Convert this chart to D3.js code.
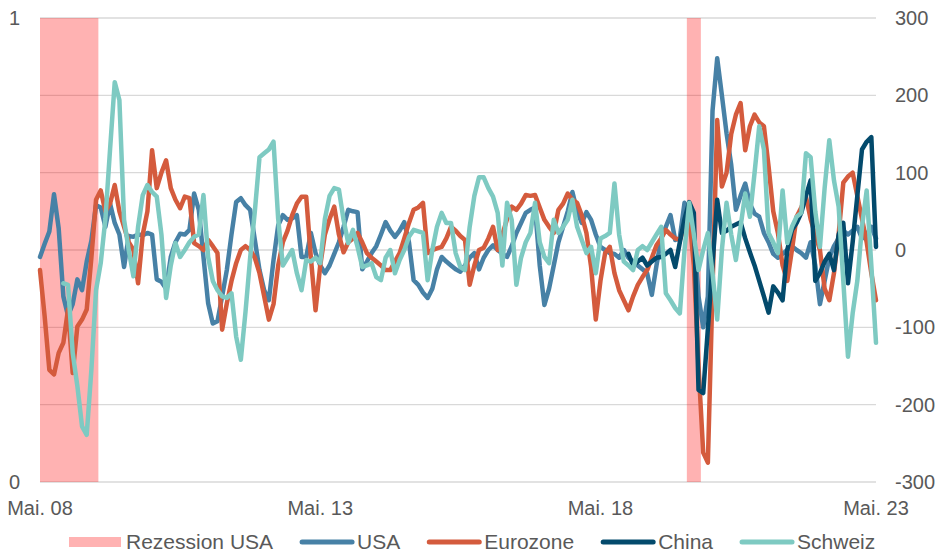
<!DOCTYPE html>
<html>
<head>
<meta charset="utf-8">
<script src="https://cdn.jsdelivr.net/npm/d3@7"></script>
<style>
  body { margin: 0; background: #fff; }
  svg text { font-family: "Liberation Sans", Arial, sans-serif; fill: #595959; }
</style>
</head>
<body>
<svg id="chart" width="939" height="553"></svg>
<script>
// monthly points, May 08 .. Apr 23
const monthCount = 180;
const xTickIndex  = [0, 60, 120, 179];
const xTickLabels = ["Mai. 08", "Mai. 13", "Mai. 18", "Mai. 23"];
const rightTicks  = [-300, -200, -100, 0, 100, 200, 300];
const leftTicks   = [0, 1];

// US recession months (first, last month index)
const recessionUSA = [[0, 12], [139, 141]];

const usa = [
  -9, 8, 24, 72, 28, -60, -85, -70, -38, -52,
  -15, 12, 58, 55, 30, 60, 35, 20, -22, 18,
  17, 20, 19, 22, 20, -38, -41, -50, -9, 10,
  21, 20, 26, 73, 52, -9, -69, -95, -92, -60,
  -26, 20, 62, 67, 58, 52, 13, -26, -52, -65,
  -13, 32, 45, 39, 41, 45, -9, -9, 22, -4,
  -20, -30, -20, -5, 10, 30, 52, 50, 49, -25,
  -15, -4, 5, 20, 36, 25, 17, 25, 36, 10,
  -39, -45, -55, -62, -50, -25, -9, -15, -20, -25,
  -28, -20, -10, -4, -25, -10, 0, 6, 0, -5,
  -9, 5, 22, 35, 48, 52, 55, -20, -71, -50,
  -20, 10, 30, 50, 75, 50, 35, 49, 39, 20,
  4, 0, -4, -5, -10, 0, -10, -15, -20, -25,
  -30, -58, -20, 15, 30, 45, 13, 16, 61, 48,
  20, -60, -100, -60, 180, 248, 200, 151, 110, 52,
  70, 86, 60, 47, 43, 22, 10, -5, -10, -5,
  0, 5, 0, -4, -10, 10, -20, -70, -40, -10,
  5, 15, 25, 20, 25, 30, 15, 20, 30, 15
];

const eurozone = [
  -26, -86, -155, -161, -133, -120, -77, -159, -99, -90,
  -77, -10, 65, 77, 50, 60, 84, 50, 30, 10,
  0, -43, 20, 50, 129, 80, 100, 116, 80, 65,
  54, 69, 67, 9, 5, 0, 13, 5, -4, -103,
  -69, -40, -17, 0, 5, 0, -10, -30, -60, -90,
  -70, -20, 10, 25, 45, 60, 69, 69, -10, -78,
  -20, 20, 40, 56, 20, -3, 10, 15, 22, 10,
  -4, -10, -15, -20, -26, -26, -15, -4, 15, 35,
  52, 55, 61, -4, 0, 2, 4, 15, 30, 25,
  18, 13, -45, -20, 0, 3, 15, 30, 0, 20,
  40, 56, 52, 60, 71, 70, 71, 55, 39, 30,
  22, 52, 60, 73, 65, 61, 45, 22, -22, -90,
  -40, -4, 4, -30, -52, -65, -78, -60, -45, -35,
  -26, -10, 6, 15, 26, 20, 15, 13, 30, 45,
  -20, -150, -262, -275, -50, 168, 82, 100, 150, 175,
  190, 129, 160, 175, 165, 160, 108, 50, 22, -20,
  -40, 0, 43, 55, 69, 40, 20, 0, -50, -65,
  -30, 20, 87, 95, 100, 70, 40, 10, -30, -65
];

const china = [
  null, null, null, null, null, null, null, null, null, null,
  null, null, null, null, null, null, null, null, null, null,
  null, null, null, null, null, null, null, null, null, null,
  null, null, null, null, null, null, null, null, null, null,
  null, null, null, null, null, null, null, null, null, null,
  null, null, null, null, null, null, null, null, null, null,
  null, null, null, null, null, null, null, null, null, null,
  null, null, null, null, null, null, null, null, null, null,
  null, null, null, null, null, null, null, null, null, null,
  null, null, null, null, null, null, null, null, null, null,
  null, null, null, null, null, null, null, null, null, null,
  null, null, null, null, null, null, null, null, null, null,
  null, null, null, null, null, null, -5, -20, -15, -10,
  -20, -15, -10, -9, -5, 0, -22, 10, 40, 62,
  48, -181, -185, -102, -18, 65, 22, 25, 30, 33,
  36, 15, -3, -20, -40, -60, -81, -47, -55, -65,
  0, 26, 35, 48, 70, 90, -40, -30, -15, -5,
  -26, 20, 35, -43, 10, 70, 130, 140, 146, 4
];

const schweiz = [
  null, null, null, null, null, -43, -45, -133, -176, -228,
  -239, -155, -52, -17, 40, 130, 217, 194, 39, 0,
  -34, 30, 71, 84, 75, 69, 20, -62, -20, 9,
  -9, 0, 10, 17, 20, 71, -9, -40, -52, -60,
  -62, -56, -112, -142, -80, -10, 50, 120, 125, 130,
  140, 40, -20, -10, 0, -30, -52, -13, -15, -10,
  -17, 40, 70, 80, 78, 39, 9, 26, 4, -22,
  -20, -17, -35, -39, -10, 0, -30, -13, 0, 17,
  26, 24, 22, -39, 0, 30, 48, 35, 35, -4,
  -22, -26, 30, 70, 94, 94, 80, 69, 48, -20,
  61, 39, -45, -10, 10, 22, 61, 10, -9, -17,
  39, 22, 30, 39, 65, 30, 13, -4, 4, -30,
  15, 18, 22, 86, 20, -15, -20, -26, 0, 5,
  0, 10, 20, 30, -56, -65, -75, -82, 0, 61,
  20, -26, 0, 22, -30, -90, 0, 61, 20, -13,
  30, 73, 43, 100, 160, 130, 22, 10, -4, 77,
  9, 30, 43, 48, 125, 120, 50, 4, 80, 142,
  90, 56, -40, -138, -82, -40, 30, 77, -20, -120
];

const seriesNames  = ["USA", "Eurozone", "China", "Schweiz"];
const seriesValues = [usa, eurozone, china, schweiz];
const seriesColors = ["#4781a6", "#d45b3d", "#034a6c", "#7ecac2"];

(function(){
  const svg = d3.select("#chart");
  const m = { top: 18, right: 63, bottom: 71, left: 40 };
  const W = 939, H = 553;

  const x  = d3.scaleLinear().domain([0, monthCount - 1]).range([m.left, W - m.right]);
  const yR = d3.scaleLinear().domain([-300, 300]).range([H - m.bottom, m.top]);
  const yL = d3.scaleLinear().domain([0, 1]).range([H - m.bottom, m.top]);

  // gridlines
  svg.append("g").selectAll("line").data(rightTicks).enter().append("line")
    .attr("x1", m.left).attr("x2", W - m.right)
    .attr("y1", d => yR(d)).attr("y2", d => yR(d))
    .attr("stroke", "#d9d9d9").attr("stroke-width", 1.3);

  // recession shading, one month wide bands
  svg.append("g").selectAll("rect").data(recessionUSA).enter().append("rect")
    .attr("x", d => Math.max(m.left, x(d[0] - 0.5)))
    .attr("width", d => x(d[1] + 0.5) - Math.max(m.left, x(d[0] - 0.5)))
    .attr("y", yL(1)).attr("height", yL(0) - yL(1))
    .attr("fill", "#ff0000").attr("fill-opacity", 0.3);

  // series lines
  const line = d3.line()
    .defined(d => d != null)
    .x((d, i) => x(i))
    .y(d => yR(d));

  svg.append("g").selectAll("path").data(seriesValues).enter().append("path")
    .attr("d", line)
    .attr("fill", "none")
    .attr("stroke", (d, i) => seriesColors[i])
    .attr("stroke-width", 4.5)
    .attr("stroke-linejoin", "round")
    .attr("stroke-linecap", "round");

  // axes labels
  svg.append("g").selectAll("text").data(leftTicks).enter().append("text")
    .attr("x", 20).attr("y", d => yL(d)).attr("dy", "0.35em")
    .attr("text-anchor", "end").attr("font-size", 20)
    .text(d => d);

  svg.append("g").selectAll("text").data(rightTicks).enter().append("text")
    .attr("x", W - m.right + 19).attr("y", d => yR(d)).attr("dy", "0.35em")
    .attr("font-size", 20)
    .text(d => d);

  svg.append("g").selectAll("text").data(xTickIndex).enter().append("text")
    .attr("x", d => x(d)).attr("y", 515)
    .attr("text-anchor", "middle").attr("font-size", 20)
    .text((d, i) => xTickLabels[i]);

  // legend
  const legendItems = [{ name: "Rezession USA", type: "rect", color: "#ff0000" }]
    .concat(seriesNames.map((n, i) => ({ name: n, type: "line", color: seriesColors[i] })));

  const lg = svg.append("g");
  let cx = 0;
  legendItems.forEach(it => {
    const g = lg.append("g").attr("transform", `translate(${cx},0)`);
    if (it.type === "rect") {
      g.append("rect").attr("x", 0).attr("y", -5).attr("width", 52).attr("height", 10)
        .attr("fill", it.color).attr("fill-opacity", 0.3);
    } else {
      g.append("line").attr("x1", 2).attr("x2", 52).attr("y1", 0).attr("y2", 0)
        .attr("stroke", it.color).attr("stroke-width", 5).attr("stroke-linecap", "round");
    }
    const t = g.append("text").attr("x", 57).attr("y", 0).attr("dy", "0.35em")
      .attr("font-size", 21).text(it.name);
    cx += 57 + t.node().getComputedTextLength() + 27;
  });
  const total = cx - 27;
  lg.attr("transform", `translate(${Math.round(472 - total / 2)},542)`);
})();
</script>
</body>
</html>
